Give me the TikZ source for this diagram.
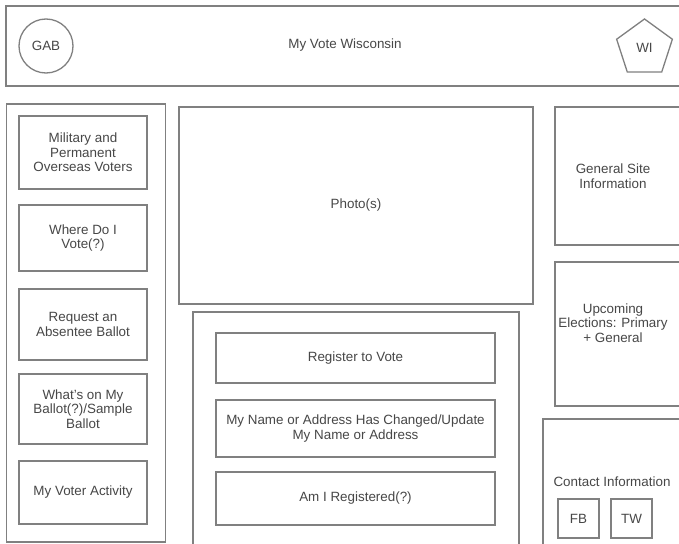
\documentclass[tikz,border=0pt]{standalone}
\usepackage{fontspec}
\setmainfont{Liberation Sans}
\usetikzlibrary{shapes.geometric}

\definecolor{linegray}{HTML}{808080}
\definecolor{textgray}{HTML}{474747}

\begin{document}
\begin{tikzpicture}[
    x=1pt, y=-1pt,
    every node/.style={text=textgray, font=\fontsize{13.4}{14.6}\selectfont, align=center},
    box/.style={draw=linegray, line width=1.3pt, rectangle, inner sep=0pt},
    panel/.style={box},
    navbox/.style={box, minimum width=128pt},
    mainbox/.style={box, minimum width=279pt},
    sidebox/.style={box, minimum width=145pt},
    iconbox/.style={box, minimum width=41pt, minimum height=39pt}
]

    \path[use as bounding box, fill=white] (0,0) rectangle (679,543);
    \clip (0,0) rectangle (679,543);

    % Header
    \node[box, minimum width=682pt, minimum height=80pt] (header) at (347,46) {};
    \node (title) at (345,45) {My Vote Wisconsin};
    \node[box, circle, minimum size=54pt] (gab) at (46,46) {GAB};
    \node[box, regular polygon, regular polygon sides=5, minimum size=58.6pt] (wi) at (644.5,48.3) {WI};

    % Left menu
    \node[panel, minimum width=159pt, minimum height=438pt] (menu) at (86,323) {};
    \node[navbox, minimum height=73pt] (military) at (83,152.5) {Military and\\Permanent\\Overseas Voters};
    \node[navbox, minimum height=66pt] (wherevote) at (83,238) {Where Do I\\Vote(?)};
    \node[navbox, minimum height=71pt] (absentee) at (83,324.5) {Request an\\Absentee Ballot};
    \node[navbox, minimum height=70pt] (sample) at (83,409) {What's on My\\Ballot(?)/Sample\\Ballot};
    \node[navbox, minimum height=63pt] (activity) at (83,492.5) {My Voter Activity};

    % Center
    \node[box, minimum width=354pt, minimum height=197pt] (photo) at (356,205.5) {Photo(s)};
    \node[panel, minimum width=326pt, minimum height=248pt] (actions) at (356,436) {};
    \node[mainbox, minimum height=50pt] (register) at (355.5,358) {Register to Vote};
    \node[mainbox, minimum height=57pt] (changed) at (355.5,428.5) {My Name or Address Has Changed/Update\\My Name or Address};
    \node[mainbox, minimum height=53pt] (amireg) at (355.5,498.5) {Am I Registered(?)};

    % Right column
    \node[sidebox, minimum height=138pt] (siteinfo) at (627.5,176) {};
    \node (siteinfotxt) at (613,176) {General Site\\Information};
    \node[sidebox, minimum height=144pt] (upcoming) at (627.5,334) {};
    \node (upcomingtxt) at (613,323) {Upcoming\\Elections: Primary\\+ General};

    % Contact
    \node[panel, minimum width=157pt, minimum height=141pt] (contact) at (621.5,489.5) {};
    \node (contacttxt) at (612,482) {Contact Information};
    \node[iconbox] (fb) at (578.5,518.5) {FB};
    \node[iconbox] (tw) at (631.5,518.5) {TW};

\end{tikzpicture}
\end{document}
